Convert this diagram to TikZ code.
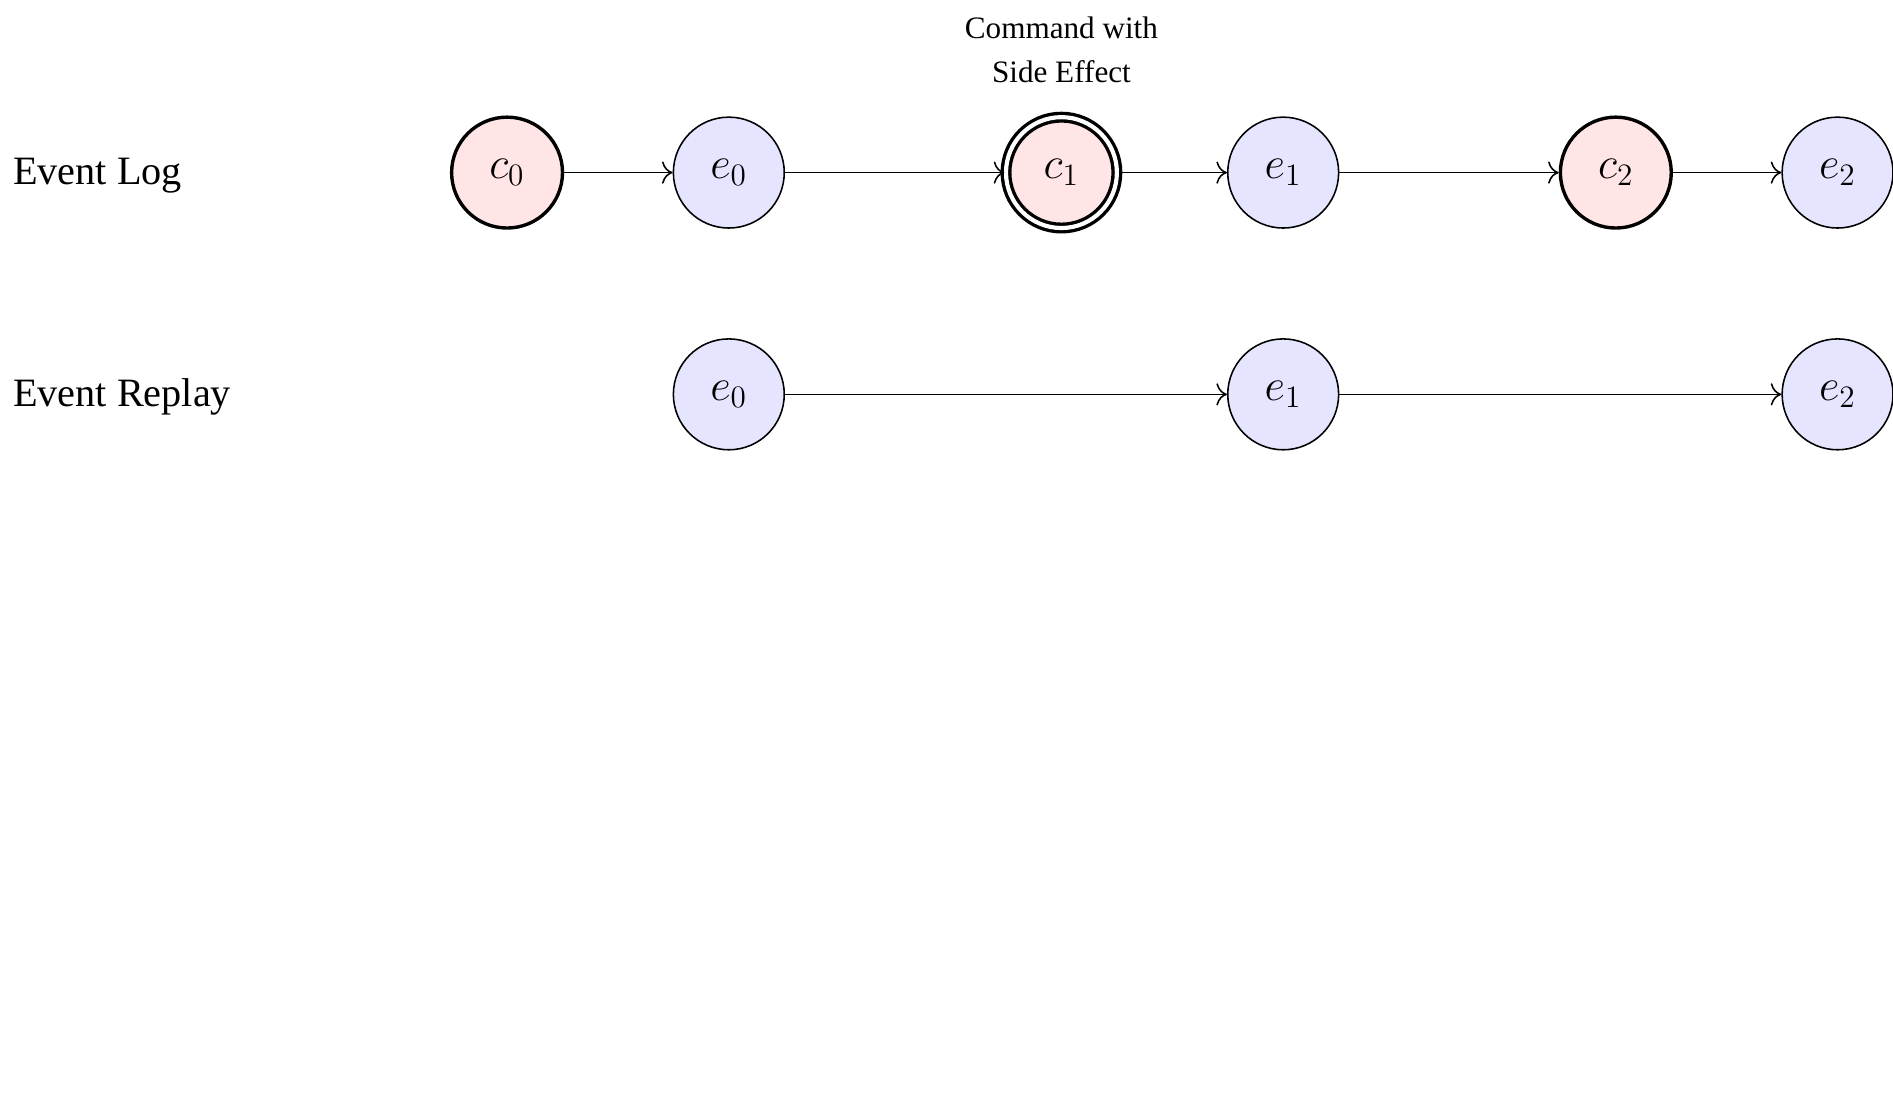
\documentclass[tikz,border=0pt]{standalone}
\usepackage{fontspec}
\setmainfont{Liberation Serif}
\usetikzlibrary{arrows.meta}
\begin{document}
\begin{tikzpicture}[
  evt/.style={circle, draw, line width=0.6pt, fill=blue!10, minimum size=1.5cm, inner sep=0pt, font=\LARGE},
  cmd/.style={circle, draw, line width=1.3pt, fill=red!10, minimum size=1.5cm, inner sep=0pt, font=\LARGE},
  sidefx/.style={cmd, double, double distance=1.6pt, line width=1.3pt},
  rowlabel/.style={anchor=base west, font=\fontsize{15.5}{19}\selectfont, inner sep=0pt},
  flow/.style={-{To[scale=1.4]}, line width=0.6pt}
]
\useasboundingbox (-6.86,-12.68) rectangle (18.75,2.335);

% event log row
\node[cmd]    (c0) at (0,0)    {$c_0$};
\node[evt]    (e0) at (3,0)    {$e_0$};
\node[sidefx] (c1) at (7.5,0)  {$c_1$};
\node[evt]    (e1) at (10.5,0) {$e_1$};
\node[cmd]    (c2) at (15,0)   {$c_2$};
\node[evt]    (e2) at (18,0)   {$e_2$};

% replay row
\node[evt] (r0) at (3,-3)    {$e_0$};
\node[evt] (r1) at (10.5,-3) {$e_1$};
\node[evt] (r2) at (18,-3)   {$e_2$};

% labels
\node[rowlabel] (lLog) at (-6.69,-0.16) {Event Log};
\node[rowlabel] (lRep) at (-6.69,-3.16) {Event Replay};
\node[font=\large, align=center, inner sep=0pt] (note) at (7.5,1.66) {Command with\\[3pt]Side Effect};

% connectors
\draw[flow] (c0) -- (e0);
\draw[flow] (e0) -- (c1);
\draw[flow] (c1) -- (e1);
\draw[flow] (e1) -- (c2);
\draw[flow] (c2) -- (e2);
\draw[flow] (r0) -- (r1);
\draw[flow] (r1) -- (r2);
\end{tikzpicture}
\end{document}
